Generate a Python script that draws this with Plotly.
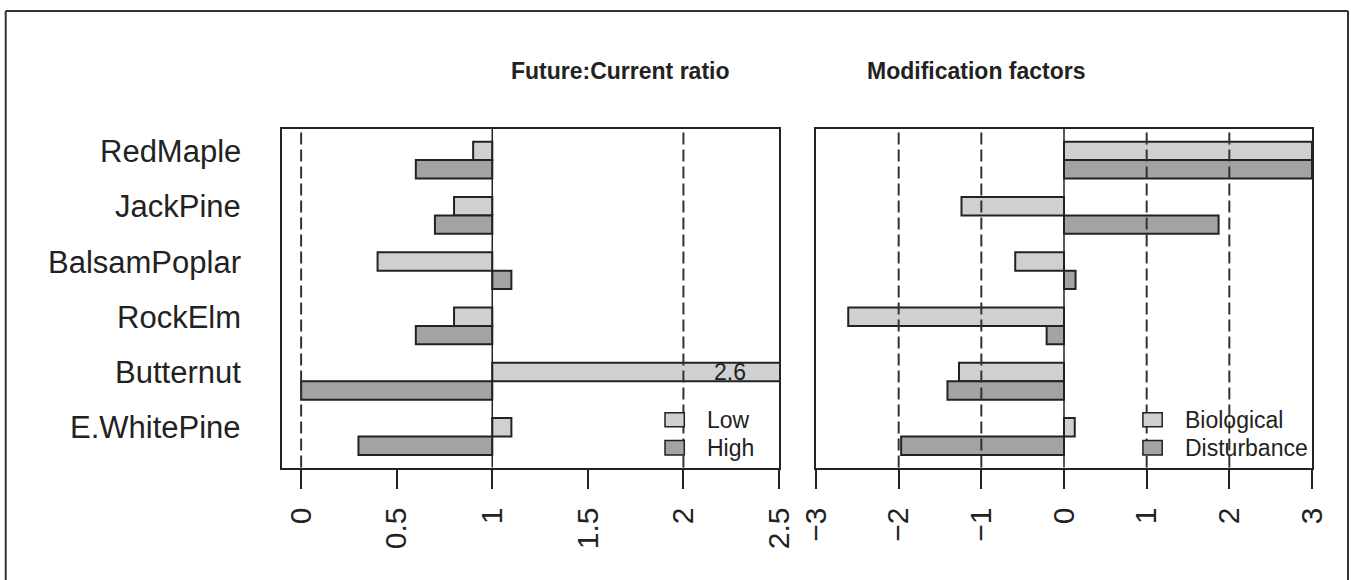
import plotly.graph_objects as go

W, H = 1351, 580

# ---------------- data ----------------
species = ["RedMaple", "JackPine", "BalsamPoplar", "RockElm", "Butternut", "E.WhitePine"]
ratio_low = [0.9, 0.8, 0.4, 0.8, 2.6, 1.1]
ratio_high = [0.6, 0.7, 1.1, 0.6, 0.0, 0.3]
mod_bio = [3.0, -1.24, -0.59, -2.61, -1.27, 0.13]
mod_dist = [3.0, 1.87, 0.14, -0.21, -1.41, -1.97]

ratio_ticks = [0, 0.5, 1, 1.5, 2, 2.5]
ratio_ticktext = ["0", "0.5", "1", "1.5", "2", "2.5"]
mod_ticks = [-3, -2, -1, 0, 1, 2, 3]
mod_ticktext = ["\u22123", "\u22122", "\u22121", "0", "1", "2", "3"]

ratio_base = 1
mod_base = 0
ratio_dashed = [0, 2]
mod_dashed = [-2, -1, 1, 2]

panel_titles = ["Future:Current ratio", "Modification factors"]
legend1 = ["Low", "High"]
legend2 = ["Biological", "Disturbance"]
clip_label = "2.6"

# ---------------- style ----------------
C_LIGHT = "#d0d0d0"
C_DARK = "#a3a3a3"
INK = "#222222"
FONT = "Liberation Sans, Arial, Helvetica, sans-serif"


def px(p):
    return p / W


def py(p):
    return 1 - p / H


x1_dom = [px(282), px(779)]
x2_dom = [px(816), px(1312)]
y_dom = [py(467.5), py(129)]
y_range = [5.561, -0.563]

fig = go.Figure()

bar_line = dict(color=INK, width=2)
fig.add_trace(go.Bar(y=species, x=[v - ratio_base for v in ratio_low], base=ratio_base,
                     orientation="h", marker=dict(color=C_LIGHT, line=bar_line),
                     name=legend1[0], xaxis="x", yaxis="y", showlegend=False))
fig.add_trace(go.Bar(y=species, x=[v - ratio_base for v in ratio_high], base=ratio_base,
                     orientation="h", marker=dict(color=C_DARK, line=bar_line),
                     name=legend1[1], xaxis="x", yaxis="y", showlegend=False))
fig.add_trace(go.Bar(y=species, x=mod_bio, base=mod_base,
                     orientation="h", marker=dict(color=C_LIGHT, line=bar_line),
                     name=legend2[0], xaxis="x2", yaxis="y2", showlegend=False))
fig.add_trace(go.Bar(y=species, x=mod_dist, base=mod_base,
                     orientation="h", marker=dict(color=C_DARK, line=bar_line),
                     name=legend2[1], xaxis="x2", yaxis="y2", showlegend=False))

xcommon = dict(showline=True, mirror=True, linecolor=INK, linewidth=2,
               ticks="outside", ticklen=19, tickwidth=1.5, tickcolor=INK,
               tickangle=-90, showgrid=False, zeroline=False, automargin=False,
               tickfont=dict(family=FONT, size=30, color=INK),
               ticklabelstandoff=7)
ycommon = dict(type="category", categoryorder="array", categoryarray=species,
               range=y_range, showline=True, mirror=True, linecolor=INK, linewidth=2,
               ticks="", showticklabels=False, showgrid=False, zeroline=False, automargin=False)

fig.update_layout(
    width=W, height=H, autosize=False,
    margin=dict(l=0, r=0, t=0, b=0, pad=0, autoexpand=False),
    paper_bgcolor="white", plot_bgcolor="white",
    barmode="group", bargap=1/3, bargroupgap=0,
    font=dict(family=FONT, color=INK),
    xaxis=dict(domain=x1_dom, anchor="y", range=[-0.1, 2.5],
               tickmode="array", tickvals=ratio_ticks, ticktext=ratio_ticktext, **xcommon),
    yaxis=dict(domain=y_dom, anchor="x", **ycommon),
    xaxis2=dict(domain=x2_dom, anchor="y2", range=[-3, 3],
                tickmode="array", tickvals=mod_ticks, ticktext=mod_ticktext, **xcommon),
    yaxis2=dict(domain=y_dom, anchor="x2", **ycommon),
)

shapes = []
# reference lines
shapes.append(dict(type="line", xref="x", yref="y domain", x0=ratio_base, x1=ratio_base, y0=0, y1=1,
                   line=dict(color=INK, width=1.5), layer="above"))
for v in ratio_dashed:
    shapes.append(dict(type="line", xref="x", yref="y domain", x0=v, x1=v, y0=0, y1=1,
                       line=dict(color="#333333", width=2, dash="12px,5px"), layer="above"))
shapes.append(dict(type="line", xref="x2", yref="y2 domain", x0=mod_base, x1=mod_base, y0=0, y1=1,
                   line=dict(color=INK, width=1.5), layer="above"))
for v in mod_dashed:
    shapes.append(dict(type="line", xref="x2", yref="y2 domain", x0=v, x1=v, y0=0, y1=1,
                       line=dict(color="#333333", width=2, dash="12px,5px"), layer="above"))

# outer frame
frame = dict(color="#333333", width=2)
shapes.append(dict(type="line", xref="paper", yref="paper", x0=px(5.7), x1=px(1348), y0=py(11), y1=py(11), line=frame))
shapes.append(dict(type="line", xref="paper", yref="paper", x0=px(5.7), x1=px(5.7), y0=py(11), y1=py(580), line=frame))
shapes.append(dict(type="line", xref="paper", yref="paper", x0=px(1348), x1=px(1348), y0=py(11), y1=py(580), line=frame))

# legend keys
annotations = []
leg_rows = [(412.7, 426.7), (440.5, 455)]
for (lx0, lx1, tx, labels) in [(665, 684.3, 705, legend1), (1142.9, 1162.2, 1183.4, legend2)]:
    for (ry0, ry1), lab, col in zip(leg_rows, labels, [C_LIGHT, C_DARK]):
        shapes.append(dict(type="rect", xref="paper", yref="paper", x0=px(lx0), x1=px(lx1),
                           y0=py(ry1), y1=py(ry0), fillcolor=col, line=dict(color=INK, width=1.5)))
        annotations.append(dict(text=lab, xref="paper", yref="paper", x=px(tx), y=py((ry0 + ry1) / 2),
                                xanchor="left", yanchor="middle", showarrow=False,
                                font=dict(family=FONT, size=23, color=INK)))

# species labels
for s in species:
    annotations.append(dict(text=s, xref="paper", yref="y", x=px(242.7), y=s, yshift=8.5,
                            xanchor="right", yanchor="middle", showarrow=False,
                            font=dict(family=FONT, size=31, color=INK)))

# clipped value label
annotations.append(dict(text=clip_label, xref="x", yref="y", x=2.34, y=species[4], yshift=9.2,
                        xanchor="right", yanchor="middle", showarrow=False,
                        font=dict(family=FONT, size=23, color=INK)))

# panel titles
for t, cx in zip(panel_titles, [620, 976.3]):
    annotations.append(dict(text="<b>" + t + "</b>", xref="paper", yref="paper", x=px(cx), y=py(70.7),
                            xanchor="center", yanchor="middle", showarrow=False,
                            font=dict(family=FONT, size=23, color=INK)))

fig.update_layout(shapes=shapes, annotations=annotations)

fig.write_html("out.html", config={"responsive": False, "displayModeBar": False},
               post_script="document.body.style.margin='0';document.body.style.overflow='hidden';")
